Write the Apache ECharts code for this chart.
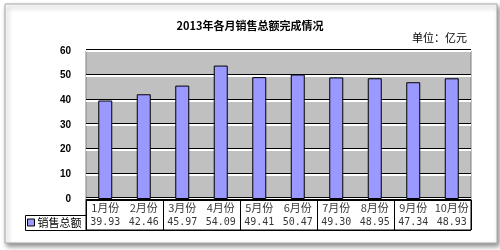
<!DOCTYPE html>
<html><head><meta charset="utf-8">
<script src="https://cdn.jsdelivr.net/npm/echarts@6/dist/echarts.min.js"></script>
<style>html,body{margin:0;padding:0;background:#fff}#c{width:500px;height:250px}</style>
</head><body><div id="c"></div>
<script>
var months = ['1月份','2月份','3月份','4月份','5月份','6月份','7月份','8月份','9月份','10月份'];
var sales = [39.93, 42.46, 45.97, 54.09, 49.41, 50.47, 49.30, 48.95, 47.34, 48.93];
var seriesName = '销售总额';
var titleText = '2013年各月销售总额完成情况';
var unitText = '单位：亿元';
var yMin = 0, yMax = 60, yStep = 10;
var rows = ['值', '月'];

var font = '"Noto Sans CJK SC", "Liberation Sans", sans-serif';
var chart = echarts.init(document.getElementById('c'));
chart.setOption({
  animation: false,
  textStyle: {fontFamily: font},
  title: [
    {text: titleText, left: 'center', top: 15, textStyle: {fontSize: 11, fontWeight: 'bold', color: '#000', fontFamily: font}},
    {text: unitText, right: 28, top: 27, textStyle: {fontSize: 11, fontWeight: 'normal', color: '#000', fontFamily: font}}
  ],
  legend: {
    left: 27, top: 217, itemWidth: 7, itemHeight: 7, itemGap: 4,
    padding: 0, textStyle: {fontSize: 11, color: '#000', padding: [0,0,0,-2]},
    data: [{name: seriesName, icon: 'rect', itemStyle: {color: '#9999ff', borderColor: '#000', borderWidth: 1}}]
  },
  graphic: [
    {type: 'rect', z: -10, shape: {x: 5, y: 4, width: 492, height: 239},
     style: {fill: '#fff', stroke: '#a8a8a8', lineWidth: 1, shadowColor: 'rgba(0,0,0,0.45)', shadowBlur: 5, shadowOffsetX: 2, shadowOffsetY: 3}},
    {type: 'rect', z: 10, shape: {x: 25.5, y: 215.5, width: 61, height: 15},
     style: {fill: 'none', stroke: '#000', lineWidth: 1}}
  ],
  grid: [
    {left: 86, right: 29, top: 51, bottom: 51, show: true, backgroundColor: '#c0c0c0', borderColor: '#808080', borderWidth: 1},
    {left: 86, right: 29, top: 200, bottom: 20, show: true, backgroundColor: 'transparent', borderColor: '#000', borderWidth: 1}
  ],
  xAxis: [
    {type: 'category', data: months, gridIndex: 0,
     axisLine: {show: true, lineStyle: {color: '#000'}}, axisTick: {show: false}, axisLabel: {show: false}, splitLine: {show: false}},
    {type: 'category', data: months, gridIndex: 1, boundaryGap: true,
     axisLine: {show: false}, axisTick: {show: false}, axisLabel: {show: false},
     splitLine: {show: true, lineStyle: {color: '#000', width: 1}}}
  ],
  yAxis: [
    {type: 'value', gridIndex: 0, min: yMin, max: yMax, interval: yStep,
     axisLine: {show: false}, axisTick: {show: false},
     axisLabel: {fontSize: 10, fontWeight: 'bold', color: '#000', margin: 15, fontFamily: '"Liberation Sans", sans-serif'},
     splitLine: {show: true, lineStyle: {color: '#ffffff', width: 2, shadowColor: '#000', shadowOffsetY: -1, shadowBlur: 0}}},
    {type: 'category', gridIndex: 1, data: rows,
     axisLine: {show: false}, axisTick: {show: false}, axisLabel: {show: false},
     splitLine: {show: true, lineStyle: {color: '#000', width: 1}}}
  ],
  series: [
    {name: seriesName, type: 'bar', xAxisIndex: 0, yAxisIndex: 0, data: sales, barWidth: 14,
     itemStyle: {color: '#9999ff', borderColor: '#000', borderWidth: 1}},
    {type: 'scatter', xAxisIndex: 1, yAxisIndex: 1, symbolSize: 0, silent: true,
     data: months.map(function(m){ return [m, rows[1]]; }),
     label: {show: true, position: 'inside', formatter: function(p){ return p.value[0]; }, fontSize: 11, color: '#000', fontFamily: font}},
    {type: 'scatter', xAxisIndex: 1, yAxisIndex: 1, symbolSize: 0, silent: true,
     data: sales.map(function(v, i){ return [months[i], rows[0], v]; }),
     label: {show: true, position: 'inside', formatter: function(p){ return p.value[2].toFixed(2); }, fontSize: 10, color: '#000', fontFamily: '"DejaVu Sans Mono", monospace'}}
  ]
});
</script></body></html>
